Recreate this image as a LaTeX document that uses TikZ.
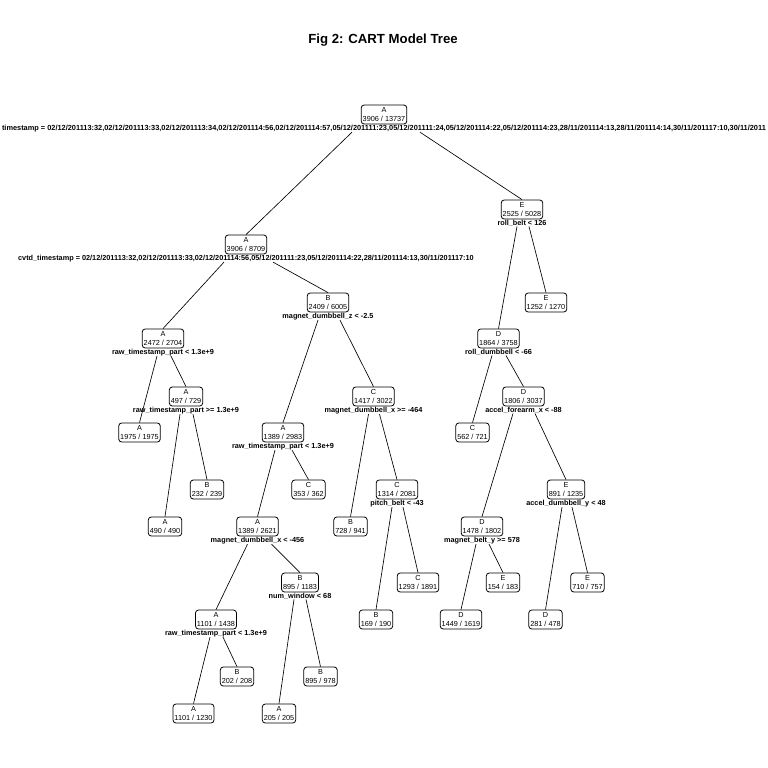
\documentclass[tikz,border=0pt]{standalone}
\usepackage{fontspec}
\setmainfont{Liberation Sans}
\tikzset{
  box/.style={draw, rounded corners=3pt, line width=0.8pt, align=center,
    inner xsep=1.5pt, inner ysep=1pt, minimum height=19pt,
    font=\fontsize{7.3}{8.6}\selectfont},
  split/.style={anchor=north, inner sep=0pt, font=\fontsize{7.3}{8}\selectfont\bfseries},
  edge/.style={line width=0.65pt},
  title/.style={font=\fontsize{13.2}{15}\selectfont\bfseries, inner sep=0pt}
}
\begin{document}
\begin{tikzpicture}[x=1pt,y=-1pt]
\fill[white] (0,0) rectangle (768,768);
\useasboundingbox (0,0) rectangle (768,768);
\node[title] (ttl) at (383,40) {Fig 2: CART Model Tree};
% nodes
\node[box] (n1) at (384,114.5) {A\\3906 / 13737};
\node[box] (n2) at (246,244.5) {A\\3906 / 8709};
\node[box] (n3) at (522,209.5) {E\\2525 / 5028};
\node[box] (n4) at (163,338.5) {A\\2472 / 2704};
\node[box] (n5) at (328,302.5) {B\\2409 / 6005};
\node[box] (n6) at (546,302.5) {E\\1252 / 1270};
\node[box] (n7) at (498.5,338.5) {D\\1864 / 3758};
\node[box] (n8) at (139.5,432.5) {A\\1975 / 1975};
\node[box] (n9) at (186,396.5) {A\\497 / 729};
\node[box] (n10) at (283,432.5) {A\\1389 / 2983};
\node[box] (n11) at (373.5,396.5) {C\\1417 / 3022};
\node[box] (n12) at (472.5,432.5) {C\\562 / 721};
\node[box] (n13) at (523.5,396.5) {D\\1806 / 3037};
\node[box] (n14) at (165,526.5) {A\\490 / 490};
\node[box] (n15) at (207,489.5) {B\\232 / 239};
\node[box] (n16) at (257.5,526.5) {A\\1389 / 2621};
\node[box] (n17) at (308.5,489.5) {C\\353 / 362};
\node[box] (n18) at (350.5,526.5) {B\\728 / 941};
\node[box] (n19) at (397,489.5) {C\\1314 / 2081};
\node[box] (n20) at (482,526.5) {D\\1478 / 1802};
\node[box] (n21) at (566,489.5) {E\\891 / 1235};
\node[box] (n22) at (300,582.5) {B\\895 / 1183};
\node[box] (n23) at (418,582.5) {C\\1293 / 1891};
\node[box] (n24) at (503,582.5) {E\\154 / 183};
\node[box] (n25) at (587.5,582.5) {E\\710 / 757};
\node[box] (n26) at (216,619.5) {A\\1101 / 1438};
\node[box] (n27) at (376,619.5) {B\\169 / 190};
\node[box] (n28) at (461,619.5) {D\\1449 / 1619};
\node[box] (n29) at (545.5,619.5) {D\\281 / 478};
\node[box] (n30) at (237,676.5) {B\\202 / 208};
\node[box] (n31) at (320.5,676.5) {B\\895 / 978};
\node[box] (n32) at (193.5,713.5) {A\\1101 / 1230};
\node[box] (n33) at (279,713.5) {A\\205 / 205};
% split labels
\node[split, font=\fontsize{7.38}{8}\selectfont\bfseries] (l1) at ([yshift=-0.5pt]n1.south) {timestamp = 02/12/201113:32,02/12/201113:33,02/12/201113:34,02/12/201114:56,02/12/201114:57,05/12/201111:23,05/12/201111:24,05/12/201114:22,05/12/201114:23,28/11/201114:13,28/11/201114:14,30/11/201117:10,30/11/2011};
\node[split] (l2) at ([yshift=-0.5pt]n2.south) {cvtd\_timestamp = 02/12/201113:32,02/12/201113:33,02/12/201114:56,05/12/201111:23,05/12/201114:22,28/11/201114:13,30/11/201117:10};
\node[split] (l3) at ([yshift=-0.5pt]n3.south) {roll\_belt < 126};
\node[split] (l4) at ([yshift=-0.5pt]n4.south) {raw\_timestamp\_part < 1.3e+9};
\node[split] (l5) at ([yshift=-0.5pt]n5.south) {magnet\_dumbbell\_z < -2.5};
\node[split] (l7) at ([yshift=-0.5pt]n7.south) {roll\_dumbbell < -66};
\node[split] (l9) at ([yshift=-0.5pt]n9.south) {raw\_timestamp\_part >= 1.3e+9};
\node[split] (l10) at ([yshift=-0.5pt]n10.south) {raw\_timestamp\_part < 1.3e+9};
\node[split] (l11) at ([yshift=-0.5pt]n11.south) {magnet\_dumbbell\_x >= -464};
\node[split] (l13) at ([yshift=-0.5pt]n13.south) {accel\_forearm\_x < -88};
\node[split] (l16) at ([yshift=-0.5pt]n16.south) {magnet\_dumbbell\_x < -456};
\node[split] (l19) at ([yshift=-0.5pt]n19.south) {pitch\_belt < -43};
\node[split] (l20) at ([yshift=-0.5pt]n20.south) {magnet\_belt\_y >= 578};
\node[split] (l21) at ([yshift=-0.5pt]n21.south) {accel\_dumbbell\_y < 48};
\node[split] (l22) at ([yshift=-0.5pt]n22.south) {num\_window < 68};
\node[split] (l26) at ([yshift=-0.5pt]n26.south) {raw\_timestamp\_part < 1.3e+9};
% edges
\draw[edge] ([xshift=-32pt]l1.south) -- (n2.north);
\draw[edge] ([xshift=36pt]l1.south) -- (n3.north);
\draw[edge] ([xshift=-22pt]l2.south) -- (n4.north);
\draw[edge] ([xshift=27pt]l2.south) -- (n5.north);
\draw[edge] ([xshift=-6pt]l4.south) -- (n8.north);
\draw[edge] ([xshift=8pt]l4.south) -- (n9.north);
\draw[edge] ([xshift=-6pt]l9.south) -- (n14.north);
\draw[edge] ([xshift=7pt]l9.south) -- (n15.north);
\draw[edge] ([xshift=-10pt]l5.south) -- (n10.north);
\draw[edge] ([xshift=12pt]l5.south) -- (n11.north);
\draw[edge] ([xshift=-5pt]l11.south) -- (n18.north);
\draw[edge] ([xshift=6pt]l11.south) -- (n19.north);
\draw[edge] ([xshift=-8pt]l10.south) -- (n16.north);
\draw[edge] ([xshift=9pt]l10.south) -- (n17.north);
\draw[edge] ([xshift=-10pt]l16.south) -- (n26.north);
\draw[edge] ([xshift=14pt]l16.south) -- (n22.north);
\draw[edge] ([xshift=-6pt]l26.south) -- (n32.north);
\draw[edge] ([xshift=7pt]l26.south) -- (n30.north);
\draw[edge] ([xshift=-6pt]l22.south) -- (n33.north);
\draw[edge] ([xshift=6pt]l22.south) -- (n31.north);
\draw[edge] ([xshift=-5pt]l19.south) -- (n27.north);
\draw[edge] ([xshift=6pt]l19.south) -- (n23.north);
\draw[edge] ([xshift=-5pt]l3.south) -- (n7.north);
\draw[edge] ([xshift=7pt]l3.south) -- (n6.north);
\draw[edge] ([xshift=-6.5pt]l7.south) -- (n12.north);
\draw[edge] ([xshift=7.5pt]l7.south) -- (n13.north);
\draw[edge] ([xshift=-10.5pt]l13.south) -- (n20.north);
\draw[edge] ([xshift=11.5pt]l13.south) -- (n21.north);
\draw[edge] ([xshift=-6pt]l20.south) -- (n28.north);
\draw[edge] ([xshift=7pt]l20.south) -- (n24.north);
\draw[edge] ([xshift=-4pt]l21.south) -- (n29.north);
\draw[edge] ([xshift=6pt]l21.south) -- (n25.north);
\end{tikzpicture}
\end{document}
